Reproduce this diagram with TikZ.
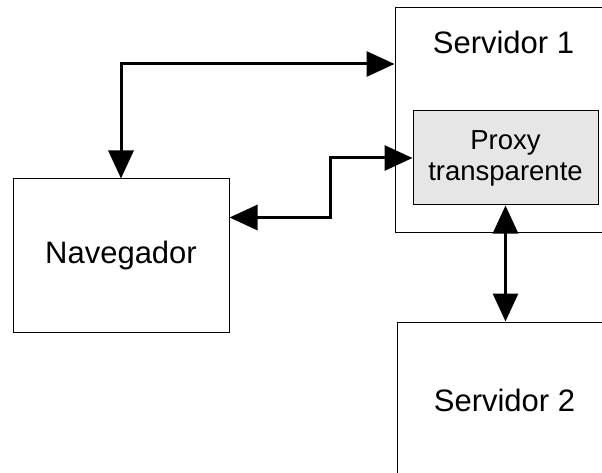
\documentclass[tikz,border=0pt]{standalone}
\usepackage{fontspec}
\setmainfont{Liberation Sans}
\usepackage{xcolor}
\usepackage{tikz}
\usetikzlibrary{arrows.meta,positioning}
\definecolor{pale}{HTML}{E6E6E6}
\newcommand{\bigfont}{\fontsize{31}{35}\selectfont}
\newcommand{\midfont}{\fontsize{27.5}{31}\selectfont}

\begin{document}
\begin{tikzpicture}[
  x=1pt,y=-1pt,
  box/.style={draw,line width=1pt,rectangle,inner sep=0pt,align=center,font=\bigfont},
  proxybox/.style={box,fill=pale,font=\midfont},
  arr/.style={{Triangle[length=28pt,width=25pt]}-{Triangle[length=28pt,width=25pt]},line width=3pt}
]
\useasboundingbox (0,0) rectangle (602,473);
\clip (0,0) rectangle (602,473);
\node[box,minimum width=217pt,minimum height=224pt,
  label={[font=\bigfont,anchor=north,yshift=-20pt]north:Servidor 1}] (srvone) at (503.5,120) {};
\node[proxybox,minimum width=185pt,minimum height=94pt] (proxy) at (505.5,158) {Proxy\\transparente};
\node[box,minimum width=216pt,minimum height=153pt] (nav) at (121,255.5) {Navegador};
\node[box,minimum width=215pt,minimum height=156pt] (srvtwo) at (504.5,400) {Servidor 2};
\draw[arr] (nav.north) |- ([yshift=56pt]srvone.west);
\draw[arr] ([yshift=38pt]nav.east) -- ++(101,0) |- (proxy.west);
\draw[arr] (proxy.south) -- (proxy.south |- srvtwo.north);
\end{tikzpicture}
\end{document}
